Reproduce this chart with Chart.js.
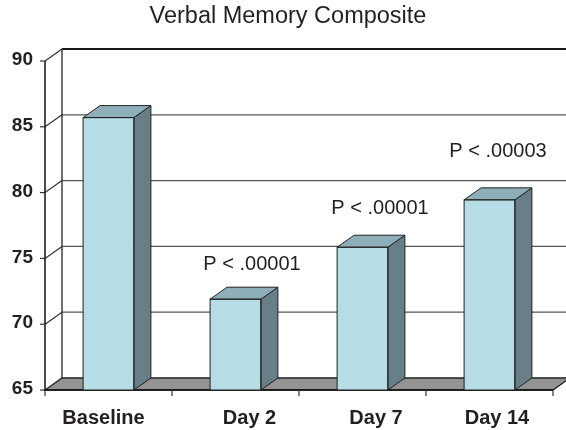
<!DOCTYPE html>
<html lang="en">
<head>
  <meta charset="UTF-8">
  <title>Verbal Memory Composite</title>
  <script src="https://cdn.jsdelivr.net/npm/chart.js"></script>
  <style>
    body { margin: 0; background: #fff; }
    #wrap { width: 566px; height: 430px; }
  </style>
</head>
<body>
  <div id="wrap"><canvas id="chart" width="566" height="430"></canvas></div>

  <script>
    // data
    const categories = ['Baseline', 'Day 2', 'Day 7', 'Day 14'];
    const scores = [85.7, 71.9, 75.85, 79.45];
    const pLabels = ['', 'P < .00001', 'P < .00001', 'P < .00003'];
    const yTicks = [65, 70, 75, 80, 85, 90];

    const FONT = '"Liberation Sans", Arial, sans-serif';
    const INK = '#231f20';
    const DX = 17, DY = -12;   // depth of the 3d box

    function poly(ctx, pts, fill, stroke, lw) {
      ctx.beginPath();
      ctx.moveTo(pts[0][0], pts[0][1]);
      for (let i = 1; i < pts.length; i++) ctx.lineTo(pts[i][0], pts[i][1]);
      ctx.closePath();
      if (fill) { ctx.fillStyle = fill; ctx.fill(); }
      if (stroke) { ctx.strokeStyle = stroke; ctx.lineWidth = lw || 1; ctx.stroke(); }
    }

    function line(ctx, x1, y1, x2, y2, color, lw) {
      ctx.beginPath();
      ctx.moveTo(x1, y1);
      ctx.lineTo(x2, y2);
      ctx.strokeStyle = color;
      ctx.lineWidth = lw;
      ctx.stroke();
    }

    // walls, floor, axes and texts around the bars
    const box3d = {
      id: 'box3d',
      beforeDatasetsDraw(chart) {
        const ctx = chart.ctx;
        const y = chart.scales.y, x = chart.scales.x;
        const area = chart.chartArea;
        const base = y.getPixelForValue(yTicks[0]);
        const top = y.getPixelForValue(yTicks[yTicks.length - 1]);
        ctx.save();

        // back wall grid lines
        yTicks.forEach((v, i) => {
          const py = y.getPixelForValue(v);
          if (i === 0) return;
          const last = i === yTicks.length - 1;
          line(ctx, area.left + DX, py + DY, chart.width + 5, py + DY, last ? '#1a1a1a' : '#555', last ? 2.2 : 1.3);
          line(ctx, area.left, py, area.left + DX, py + DY, '#333', 1.2);
        });
        // left back edge
        line(ctx, area.left + DX, top + DY, area.left + DX, base + DY, '#222', 1.3);

        // floor
        poly(ctx, [[area.left, base], [area.right, base], [area.right + DX, base + DY], [area.left + DX, base + DY]], '#939393', '#222', 1.3);
        line(ctx, area.left, base, area.right, base, '#111', 1.6);

        // front left axis
        line(ctx, area.left, top, area.left, base, '#111', 1.5);
        ctx.font = 'bold 19px ' + FONT;
        ctx.fillStyle = INK;
        ctx.textAlign = 'right';
        ctx.textBaseline = 'middle';
        yTicks.forEach(v => {
          const py = y.getPixelForValue(v);
          line(ctx, area.left - 5, py, area.left, py, '#333', 1.2);
          ctx.fillText(String(v), 33, py - 1);
        });

        // category ticks on the floor edge
        const step = x.getPixelForValue(1) - x.getPixelForValue(0);
        for (let i = 0; i <= categories.length; i++) {
          const px = x.getPixelForValue(0) - step / 2 + i * step;
          line(ctx, px, base, px, base + 6, '#333', 1.2);
        }
        ctx.restore();
      },
      afterDatasetsDraw(chart, args, opts) {
        const ctx = chart.ctx;
        const meta = chart.getDatasetMeta(0);
        const base = chart.scales.y.getPixelForValue(yTicks[0]);
        ctx.save();
        meta.data.forEach((bar, i) => {
          const p = bar.getProps(['x', 'y', 'width'], true);
          const l = p.x - p.width / 2, r = p.x + p.width / 2;
          // side face
          poly(ctx, [[r, p.y], [r + DX, p.y + DY], [r + DX, base + DY], [r, base]], '#687f87', '#222', 1);
          // top face
          poly(ctx, [[l, p.y], [r, p.y], [r + DX, p.y + DY], [l + DX, p.y + DY]], '#8eafba', '#222', 1);
          // front outline
          ctx.strokeStyle = '#222';
          ctx.lineWidth = 1;
          ctx.strokeRect(l, p.y, p.width, base - p.y);

          // significance labels
          ctx.font = '20px ' + FONT;
          ctx.fillStyle = INK;
          ctx.textAlign = 'center';
          ctx.textBaseline = 'middle';
          if (pLabels[i]) {
            ctx.fillText(pLabels[i], p.x + opts.pdx[i], p.y + opts.pdy[i]);
          }
          // category labels
          ctx.font = 'bold 20px ' + FONT;
          ctx.fillText(categories[i], p.x + opts.cdx[i], base + 28);
        });

        // title
        ctx.font = '23.5px ' + FONT;
        ctx.fillStyle = INK;
        ctx.textAlign = 'center';
        ctx.textBaseline = 'middle';
        ctx.fillText('Verbal Memory Composite', 288, 17);
        ctx.restore();
      }
    };

    new Chart(document.getElementById('chart'), {
      type: 'bar',
      data: {
        labels: categories,
        datasets: [{
          data: scores,
          base: 65,
          backgroundColor: '#b6dce6',
          borderColor: '#222',
          borderWidth: 0,
          barPercentage: 0.4,
          categoryPercentage: 1
        }]
      },
      options: {
        responsive: false,
        animation: false,
        layout: { padding: { left: 45, right: 13, top: 61, bottom: 40 } },
        plugins: {
          legend: { display: false },
          tooltip: { enabled: false },
          box3d: {
            pdx: [0, 16.5, 17.5, 8.5],
            pdy: [0, -35, -39, -48],
            cdx: [-5, 14, 13.5, 7.5]
          }
        },
        scales: {
          x: { display: false },
          y: { display: false, min: 65, max: 90, ticks: { stepSize: 5 } }
        }
      },
      plugins: [box3d]
    });
  </script>
</body>
</html>
